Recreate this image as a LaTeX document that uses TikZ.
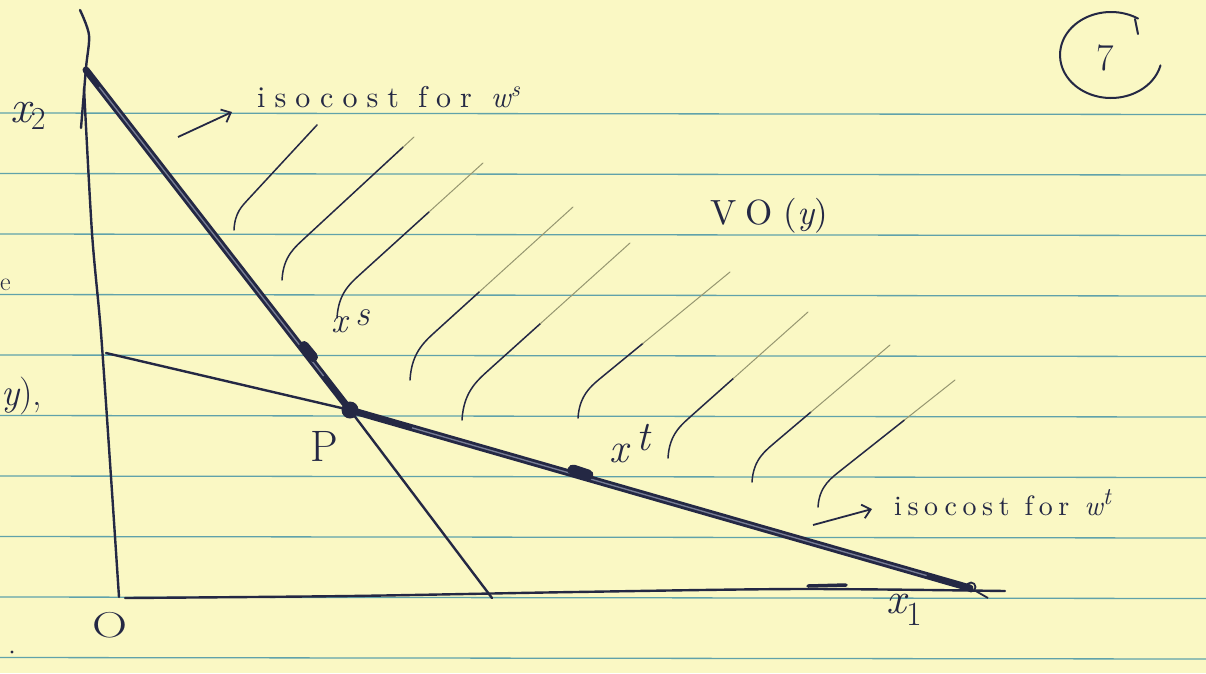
\documentclass[tikz,border=0pt]{standalone}
\usepackage{fontspec}
\usetikzlibrary{calc,arrows.meta}
\newfontfamily\handA{lmroman10-regular.otf}[LetterSpace=30]
\newfontfamily\handB{lmroman10-regular.otf}[LetterSpace=20]
\newfontfamily\handAit{lmroman10-italic.otf}[LetterSpace=30]
\newfontfamily\handBit{lmroman10-italic.otf}[LetterSpace=20]
\definecolor{paper}{RGB}{250,248,196}
\definecolor{rulecol}{RGB}{96,162,170}
\definecolor{ink}{RGB}{36,40,68}
\definecolor{inklight}{RGB}{120,126,150}
\definecolor{faint}{RGB}{150,150,112}
\newcommand\hatchcurve[5]{%
  \path (#1,#2) coordinate (hB) ({#1+0.18*(#3-#1)},{#2-0.3*(#2-#4)}) coordinate (hM) (#3,#4) coordinate (hT);
  \draw[hatchdark] (hB) .. controls +({0.01*(#3-#1)},{-0.17*(#2-#4)}) and +({-0.08*(#3-#1)},{0.07*(#2-#4)}) .. (hM) -- ($(hM)!#5!(hT)$);
  \draw[hatchlight] ($(hM)!#5!(hT)$) -- (hT);
}
\begin{document}
\begin{tikzpicture}[x=1pt,y=-1pt,
  paperrule/.style={rulecol, line width=1.3pt},
  axisline/.style={ink, line width=2.4pt, line cap=round, line join=round},
  thinline/.style={ink, line width=2.4pt, line cap=round},
  thickline/.style={ink, line width=7pt, line cap=round},
  thickcore/.style={inklight, line width=1.3pt},
  hatchdark/.style={ink, line width=1.5pt, line cap=round},
  hatchlight/.style={faint, line width=1pt, line cap=round},
  hand/.style={ink, inner sep=0pt, font=\fontsize{34}{36}\selectfont},
  pointer/.style={ink, line width=1.8pt, -{Straight Barb[length=8pt,width=14pt,line width=1.8pt]}},
]
\fill[paper] (0,0) rectangle (1206,673);
\useasboundingbox (0,0) rectangle (1206,673);
\clip (0,0) rectangle (1206,673);
\foreach \yy in {113,173.5,234,294.5,355,415.5,476,536.5,597,657.5}
  \draw[paperrule] (0,\yy) -- (1206,{\yy+1.5});

% named points
\coordinate (A) at (86,70);
\coordinate (P) at (350,410);
\coordinate (B) at (492,598);
\coordinate (C) at (106,353);
\coordinate (D) at (970,588);

% hatching of VO(y)
\hatchcurve{234}{230}{317}{125}{1.0}
\hatchcurve{282}{280}{414}{137}{0.9}
\hatchcurve{337}{318}{483}{163}{0.55}
\hatchcurve{410}{380}{573}{207}{0.3}
\hatchcurve{462}{420}{630}{243}{0.35}
\hatchcurve{578}{418}{730}{272}{0.3}
\hatchcurve{668}{458}{808}{312}{0.35}
\hatchcurve{752}{482}{890}{345}{0.3}
\hatchcurve{818}{507}{955}{380}{0.55}

% axes
\draw[axisline] plot[smooth] coordinates {(80,10) (89,35) (86,68) (81,128)};
\draw[axisline] plot[smooth] coordinates {(84,88) (92,233) (101,333) (111,477) (119,597)};
\draw[axisline] plot[smooth] coordinates {(125,598) (350,596) (575,592) (800,589) (1005,591)};
\draw[axisline, line width=3.5pt] (808,586) -- (846,585);

% isocost lines
\draw[thinline] (C) -- (P);
\draw[thinline] (P) -- (B);
\draw[thickline] (A) -- (P);
\draw[thickcore] ($(A)!0.05!(P)$) -- ($(A)!0.9!(P)$);
\draw[thickline] (P) -- (D);
\draw[thickcore] ($(P)!0.1!(D)$) -- ($(P)!0.93!(D)$);

% points
\fill[ink] (P) circle (8.5);
\draw[ink, line width=10pt, line cap=round] (304,346) -- (313,357);
\draw[ink, line width=11pt, line cap=round] (573,470) -- (588,475);
\draw[ink, line width=1.8pt] (971,587) circle (4.5);
\draw[ink, line width=1.8pt] (974,590) -- (988,598);

% labels
\node[hand, font=\handA\fontsize{30}{32}\selectfont, anchor=base west] (isoS) at (257,107)
  {isocost for {\handAit w}\raisebox{11pt}{\fontsize{22}{22}\selectfont\handAit s}};
\coordinate (arrSt) at (178,137);
\draw[pointer] (arrSt) -- ($(isoS.base west)+(-25,5)$);
\node[hand, font=\handB\fontsize{28}{30}\selectfont, anchor=base west] (isoT) at (894,515)
  {isocost for {\handBit w}\raisebox{11pt}{\fontsize{24}{24}\selectfont\handBit t}};
\coordinate (arrTt) at (813,525);
\draw[pointer] (arrTt) -- ($(isoT.base west)+(-22,-6)$);

\node[hand, font=\handA\fontsize{35}{36}\selectfont, anchor=base west] (vo) at (710,224) {VO({\handAit y})};

\node[hand, font=\fontsize{38}{38}\selectfont] (seven) at (1105,58) {7};
\draw[ink, line width=2pt, line cap=round] plot[smooth, domain=58:346, samples=50] ({1111+51*cos(\x)},{55-43*sin(\x)});
\draw[ink, line width=2pt, line cap=round] (1135,19) -- (1138,34);

\node[hand, font=\fontsize{44}{44}\selectfont, anchor=base] (Plab) at (324,461) {P};
\node[hand, font=\fontsize{36}{36}\selectfont] (Olab) at (110,625) {\scalebox{1.35}[1]{O}};
\node[hand, font=\fontsize{46}{46}\selectfont, anchor=base west] (x2) at (10,122)
  {{\itshape x}\raisebox{-7pt}{\fontsize{32}{32}\selectfont 2}};
\node[hand, font=\fontsize{44}{44}\selectfont, anchor=base west] (x1) at (886,613)
  {{\itshape x}\raisebox{-12pt}{\fontsize{34}{34}\selectfont 1}};
\node[hand, font=\fontsize{36}{36}\selectfont, anchor=base west] (xs) at (331,332)
  {{\itshape x}\hspace{8pt}\raisebox{7pt}{\itshape s}};
\node[hand, font=\fontsize{42}{42}\selectfont, anchor=base west] (xt) at (609,462)
  {{\itshape x}\hspace{8pt}\raisebox{12pt}{\itshape t}};

% margin text
\node[hand, font=\fontsize{26}{26}\selectfont, anchor=base west] (fragE) at (0,290) {e};
\node[hand, font=\fontsize{38}{38}\selectfont, anchor=base west] (fragY) at (1,405) {{\itshape y}),};
\fill[ink] (12,652) circle (1.6);
\end{tikzpicture}
\end{document}
